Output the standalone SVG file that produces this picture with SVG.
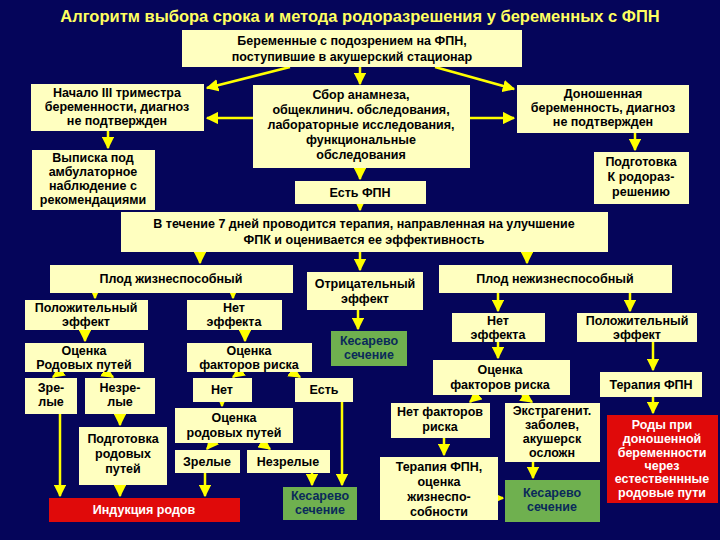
<svg xmlns="http://www.w3.org/2000/svg" width="720" height="540" viewBox="0 0 720 540">
<defs>
<marker id="ah" markerWidth="5" markerHeight="5" refX="4.5" refY="2.5" orient="auto" markerUnits="strokeWidth"><path d="M0,0 L5,2.5 L0,5 z" fill="#ffff00"/></marker>
<style>
.b{fill:#ffffc0}
.g{fill:#6fb04f}
.r{fill:#e00a0a}
text{font-family:"Liberation Sans",Arial,sans-serif;font-weight:bold;font-size:12.5px;text-anchor:middle;fill:#000}
.gt{fill:#0a2a5a}
.w{fill:#ffffff}
#conn line,#conn path{stroke:#ffff00;stroke-width:2.5;fill:none;marker-end:url(#ah)}
</style>
</defs>
<rect width="720" height="540" fill="#05055a"/>
<text x="360" y="22" style="font-size:16.5px;fill:#ffff60">Алгоритм выбора срока и метода родоразрешения у беременных с ФПН</text>
<g id="conn">
<line x1="290" y1="67" x2="207" y2="88"/>
<line x1="360" y1="67" x2="360" y2="84"/>
<line x1="435" y1="67" x2="514" y2="89"/>
<line x1="253" y1="118" x2="207" y2="118"/>
<line x1="470" y1="118" x2="514" y2="118"/>
<line x1="108" y1="131" x2="108" y2="148"/>
<line x1="635" y1="133" x2="635" y2="150"/>
<line x1="360" y1="168" x2="360" y2="179"/>
<line x1="360" y1="204" x2="360" y2="210"/>
<line x1="200" y1="252" x2="200" y2="263"/>
<line x1="360" y1="252" x2="360" y2="270"/>
<line x1="527" y1="252" x2="527" y2="263"/>
<line x1="95" y1="293" x2="95" y2="298"/>
<line x1="233" y1="293" x2="233" y2="298"/>
<line x1="85" y1="330" x2="85" y2="341"/>
<line x1="245" y1="330" x2="245" y2="341"/>
<line x1="60" y1="372" x2="53" y2="377"/>
<line x1="105" y1="372" x2="113" y2="377"/>
<line x1="240" y1="372" x2="233" y2="377"/>
<line x1="292" y1="372" x2="300" y2="377"/>
<line x1="120" y1="414" x2="120" y2="425"/>
<line x1="60" y1="414" x2="60" y2="496"/>
<line x1="120" y1="485" x2="120" y2="496"/>
<line x1="222" y1="402" x2="222" y2="406"/>
<line x1="212" y1="443" x2="207" y2="449"/>
<line x1="262" y1="443" x2="270" y2="449"/>
<line x1="205" y1="473" x2="205" y2="496"/>
<line x1="312" y1="473" x2="312" y2="485"/>
<line x1="342" y1="402" x2="342" y2="485"/>
<line x1="358" y1="310" x2="358" y2="329"/>
<line x1="498" y1="293" x2="498" y2="311"/>
<line x1="630" y1="293" x2="630" y2="311"/>
<line x1="498" y1="342" x2="498" y2="358"/>
<line x1="478" y1="395" x2="470" y2="402"/>
<line x1="522" y1="395" x2="532" y2="402"/>
<line x1="444" y1="438" x2="444" y2="455"/>
<line x1="533" y1="462" x2="533" y2="478"/>
<line x1="493" y1="498" x2="503" y2="498"/>
<line x1="653" y1="342" x2="653" y2="370"/>
<line x1="653" y1="397" x2="653" y2="413"/>
</g>
<g id="n_top"><rect class="b" x="182" y="30" width="340" height="37"/><text x="352" y="45">Беременные с подозрением на ФПН,</text><text x="352" y="61">поступившие в акушерский стационар</text></g>
<g id="n_start3"><rect class="b" x="31" y="84" width="173" height="47"/><text x="117" y="97">Начало III триместра</text><text x="117" y="111">беременности, диагноз</text><text x="117" y="125">не подтвержден</text></g>
<g id="n_sbor"><rect class="b" x="253" y="85" width="217" height="83"/><text x="361" y="99">Сбор анамнеза,</text><text x="361" y="114">общеклинич. обследования,</text><text x="361" y="129">лабораторные исследования,</text><text x="361" y="144">функциональные</text><text x="361" y="159">обследования</text></g>
<g id="n_donosh"><rect class="b" x="517" y="85" width="172" height="48"/><text x="603" y="98">Доношенная</text><text x="603" y="112">беременность, диагноз</text><text x="603" y="126">не подтвержден</text></g>
<g id="n_vypiska"><rect class="b" x="32" y="150" width="123" height="60"/><text x="93" y="162">Выписка под</text><text x="93" y="176">амбулаторное</text><text x="93" y="190">наблюдение с</text><text x="93" y="204">рекомендациями</text></g>
<g id="n_estfpn"><rect class="b" x="295" y="181" width="131" height="23"/><text x="360" y="197">Есть ФПН</text></g>
<g id="n_podg"><rect class="b" x="594" y="152" width="95" height="52"/><text x="641" y="166">Подготовка</text><text x="641" y="181">К родораз-</text><text x="641" y="196">решению</text></g>
<g id="n_7days"><rect class="b" x="121" y="212" width="487" height="40"/><text x="364" y="228">В течение 7 дней проводится терапия, направленная на улучшение</text><text x="364" y="244">ФПК и оценивается ее эффективность</text></g>
<g id="n_zhiz"><rect class="b" x="50" y="265" width="243" height="28"/><text x="171" y="283">Плод жизнеспособный</text></g>
<g id="n_pos1"><rect class="b" x="25" y="300" width="123" height="30"/><text x="86" y="312">Положительный</text><text x="86" y="326">эффект</text></g>
<g id="n_net1"><rect class="b" x="187" y="300" width="95" height="30"/><text x="234" y="312">Нет</text><text x="234" y="326">эффекта</text></g>
<g id="n_otr"><rect class="b" x="307" y="272" width="116" height="38"/><text x="365" y="288">Отрицательный</text><text x="365" y="303">эффект</text></g>
<g id="n_kes1"><rect class="g" x="331" y="331" width="76" height="35"/><text class="gt" x="369" y="345">Кесарево</text><text class="gt" x="369" y="359">сечение</text></g>
<g id="n_ocrod1"><rect class="b" x="25" y="343" width="119" height="29"/><text x="84" y="355">Оценка</text><text x="84" y="369">Родовых путей</text></g>
<g id="n_ocfak1"><rect class="b" x="187" y="343" width="125" height="29"/><text x="249" y="355">Оценка</text><text x="249" y="369">факторов риска</text></g>
<g id="n_zrel1"><rect class="b" x="25" y="378" width="52" height="36"/><text x="51" y="392">Зре-</text><text x="51" y="406">лые</text></g>
<g id="n_nezrel1"><rect class="b" x="85" y="378" width="70" height="36"/><text x="120" y="392">Незре-</text><text x="120" y="406">лые</text></g>
<g id="n_net2"><rect class="b" x="193" y="378" width="59" height="24"/><text x="222" y="394">Нет</text></g>
<g id="n_est"><rect class="b" x="295" y="378" width="58" height="24"/><text x="324" y="394">Есть</text></g>
<g id="n_ocrod2"><rect class="b" x="175" y="408" width="118" height="35"/><text x="234" y="422">Оценка</text><text x="234" y="437">родовых путей</text></g>
<g id="n_podgrod"><rect class="b" x="79" y="427" width="88" height="58"/><text x="123" y="443">Подготовка</text><text x="123" y="458">родовых</text><text x="123" y="473">путей</text></g>
<g id="n_zrel2"><rect class="b" x="175" y="450" width="65" height="23"/><text x="207" y="466">Зрелые</text></g>
<g id="n_nezrel2"><rect class="b" x="247" y="450" width="83" height="23"/><text x="288" y="466">Незрелые</text></g>
<g id="n_ind"><rect class="r" x="49" y="498" width="191" height="24"/><text class="w" x="144" y="514">Индукция  родов</text></g>
<g id="n_kes2"><rect class="g" x="283" y="487" width="74" height="33"/><text class="gt" x="320" y="500">Кесарево</text><text class="gt" x="320" y="514">сечение</text></g>
<g id="n_nezhiz"><rect class="b" x="439" y="265" width="233" height="28"/><text x="555" y="283">Плод нежизнеспособный</text></g>
<g id="n_net3"><rect class="b" x="452" y="313" width="93" height="29"/><text x="498" y="325">Нет</text><text x="498" y="339">эффекта</text></g>
<g id="n_pos2"><rect class="b" x="577" y="313" width="120" height="29"/><text x="637" y="325">Положительный</text><text x="637" y="339">эффект</text></g>
<g id="n_ocfak2"><rect class="b" x="433" y="360" width="137" height="35"/><text x="500" y="374">Оценка</text><text x="500" y="389">факторов риска</text></g>
<g id="n_terfpn"><rect class="b" x="600" y="372" width="102" height="25"/><text x="651" y="389">Терапия ФПН</text></g>
<g id="n_netfak"><rect class="b" x="391" y="403" width="99" height="35"/><text x="440" y="416">Нет факторов</text><text x="440" y="431">риска</text></g>
<g id="n_ekstr"><rect class="b" x="505" y="403" width="95" height="59"/><text x="552" y="415">Экстрагенит.</text><text x="552" y="429">заболев,</text><text x="552" y="443">акушерск</text><text x="552" y="457">осложн</text></g>
<g id="n_rody"><rect class="r" x="607" y="415" width="111" height="88"/><text class="w" x="662" y="429">Роды при</text><text class="w" x="662" y="443">доношенной</text><text class="w" x="662" y="457">беременности</text><text class="w" x="662" y="470">через</text><text class="w" x="662" y="483">естественнные</text><text class="w" x="662" y="497">родовые пути</text></g>
<g id="n_terocen"><rect class="b" x="380" y="457" width="118" height="63"/><text x="439" y="471">Терапия ФПН,</text><text x="439" y="486">оценка</text><text x="439" y="501">жизнеспо-</text><text x="439" y="516">собности</text></g>
<g id="n_kes3"><rect class="g" x="505" y="480" width="95" height="42"/><text class="gt" x="552" y="497">Кесарево</text><text class="gt" x="552" y="511">сечение</text></g>
</svg>
